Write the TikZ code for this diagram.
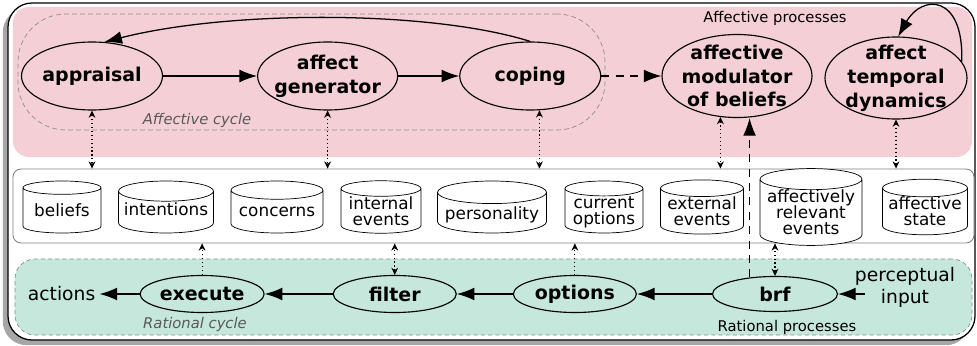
\documentclass[tikz,border=0pt]{standalone}
\usepackage{fontspec}
\setmainfont{DejaVu Sans}
\usepackage{tikz}
\usetikzlibrary{shapes.geometric}
\usetikzlibrary{arrows.meta}
\usetikzlibrary{shadows}
\usetikzlibrary{positioning}
\definecolor{affpink}{HTML}{F4D0D6}
\definecolor{ratgreen}{HTML}{C6E7DB}
\tikzset{x=0.25mm, y=-0.25mm, every text node part/.style={align=center}}
\tikzstyle{frame} = [draw, line width=0.9pt, fill=white, rounded corners=6mm, drop shadow={shadow xshift=-1.3mm, shadow yshift=-1.3mm, fill=black!35, opacity=1}]
\tikzstyle{region} = [rounded corners=4mm, inner sep=0pt]
\tikzstyle{proc} = [ellipse, draw, line width=0.8pt, inner xsep=-1mm, inner ysep=-3mm, font={\fontsize{13.5}{17}\selectfont\bfseries}]
\tikzstyle{store} = [cylinder, shape border rotate=90, aspect=0.24, draw, line width=0.5pt, fill=white, inner sep=0pt, anchor=shape center, text depth=-16pt, font={\fontsize{12}{11.4}\selectfont\lineskiplimit=-20pt}]
\tikzstyle{note} = [font={\fontsize{10.5}{12}\selectfont}]
\tikzstyle{cyclenote} = [font={\fontsize{10.5}{12}\selectfont\itshape}, text=black!65]
\tikzstyle{arr} = [draw, line width=0.9pt, -{Latex[length=4.4mm, width=3.2mm]}]
\tikzstyle{dasharr} = [arr, dash pattern=on 2mm off 1.6mm]
\tikzstyle{link} = [draw, dotted, line width=0.8pt, {Stealth[length=1.8mm, width=1.7mm]}-{Stealth[length=1.8mm, width=1.7mm]}]
\tikzstyle{push} = [draw, dotted, line width=0.8pt, -{Stealth[length=1.8mm, width=1.7mm]}]

\begin{document}
\begin{tikzpicture}
  \useasboundingbox (0,0) rectangle (977,346);
  % background
  \node[frame, minimum width=241.75mm, minimum height=84.25mm] (frame) at (491.5,171.5) {};
  \node[region, fill=affpink, minimum width=239.75mm, minimum height=37.5mm] (affreg) at (492.5,82) {};
  \node[region, fill=ratgreen, draw=black!45, dash pattern=on 1mm off 0.8mm, line width=0.5pt, rounded corners=5mm, minimum width=239.25mm, minimum height=19mm] (ratreg) at (493.5,297) {};
  \node[draw=black!50, line width=0.6pt, fill=white, rounded corners=2mm, minimum width=240.25mm, minimum height=18.5mm] (db) at (493.5,206) {};
  \node[draw=black!45, dash pattern=on 1.2mm off 0.8mm, line width=0.5pt, rounded corners=12mm, minimum width=146.75mm, minimum height=29mm] (affcyc) at (311.5,72) {};
  \node[note] (affproc) at (775,18) {Affective processes};
  \node[cyclenote] (affcyclbl) at (197,120) {Affective cycle};
  \node[cyclenote] (ratcyclbl) at (195,324) {Rational cycle};
  \node[note] (ratproc) at (787,327) {Rational processes};

  % affective processes
  \node[proc, minimum width=35.25mm, minimum height=17mm] (appr) at (92,76) {appraisal};
  \node[proc, right=23.5mm of appr, minimum width=35mm, minimum height=17mm] (gen) {affect\\generator};
  \node[proc, right=15.25mm of gen, minimum width=35.25mm, minimum height=17mm] (cop) {coping};
  \node[proc, minimum width=37.5mm, minimum height=20.75mm] (mod) at (737,76) {affective\\modulator\\of beliefs};
  \node[proc, minimum width=35.5mm, minimum height=20.5mm] (atd) at (896,78) {affect\\temporal\\dynamics};

  % stores
  \node[store, minimum width=19.5mm, minimum height=13mm] (bel) at (62,207) {beliefs};
  \node[store, minimum width=23.75mm, minimum height=13mm, text depth=4pt] (int) at (166,207) {intentions};
  \node[store, minimum width=23mm, minimum height=13mm] (con) at (277,207) {concerns};
  \node[store, minimum width=20mm, minimum height=13mm] (iev) at (381,207) {internal\\events};
  \node[store, minimum width=27.25mm, minimum height=13mm, text depth=-8pt] (pers) at (492,207) {personality};
  \node[store, minimum width=19.5mm, minimum height=13mm] (curopt) at (604,207) {current\\options};
  \node[store, minimum width=20.75mm, minimum height=13mm] (eev) at (702,207) {external\\events};
  \node[store, minimum width=25.5mm, minimum height=16.5mm, text depth=-4pt] (arev) at (811,207) {affectively\\relevant\\events};
  \node[store, minimum width=21.25mm, minimum height=13mm] (ast) at (925,207) {affective\\state};

  % rational processes
  \node[proc, minimum width=31.25mm, minimum height=8.75mm] (brf) at (775,294) {brf};
  \node[proc, left=18.75mm of brf, minimum width=30.75mm, minimum height=9.25mm] (opt) {options};
  \node[proc, left=14mm of opt, minimum width=30.75mm, minimum height=9.25mm] (fil) {filter};
  \node[proc, left=17mm of fil, minimum width=31mm, minimum height=9.25mm] (exe) {execute};
  \node[left=10mm of exe, inner sep=1mm, font={\fontsize{13.3}{15.6}\selectfont}] (act) {actions};
  \node[font={\fontsize{13.3}{15.6}\selectfont}] (pin) at (905,287) {perceptual\\input};

  % affective cycle
  \path[arr] (appr) -- (gen);
  \path[arr] (gen) -- (cop);
  \draw[arr] (cop.north) .. controls (430,10) and (230,10) .. (appr.70);
  \path[dasharr] (cop) -- (mod);
  \draw[arr] (atd.14) .. controls (964,-6) and (922,-6) .. (atd.87);

  % rational cycle
  \draw[arr, shorten <=3.75mm] (pin.west |- brf.east) -- (brf.east);
  \path[arr] (brf) -- (opt);
  \path[arr] (opt) -- (fil);
  \path[arr] (fil) -- (exe);
  \path[arr] (exe) -- (act);
  \draw[dasharr] (brf.147) -- (brf.147 |- mod.south);

  % links to the stores
  \draw[link] (appr.south) -- (appr.south |- db.north);
  \draw[link] (gen.south) -- (gen.south |- db.north);
  \draw[link] (cop.-75) -- (cop.-75 |- db.north);
  \draw[link] (mod.-112) -- (mod.-112 |- db.north);
  \draw[link] (atd.south) -- (atd.south |- db.north);
  \draw[push] (exe.north) -- (exe.north |- db.south);
  \draw[link] (fil.north) -- (fil.north |- db.south);
  \draw[push] (opt.north) -- (opt.north |- db.south);
  \draw[link] (brf.north) -- (brf.north |- db.south);
\end{tikzpicture}
\end{document}
